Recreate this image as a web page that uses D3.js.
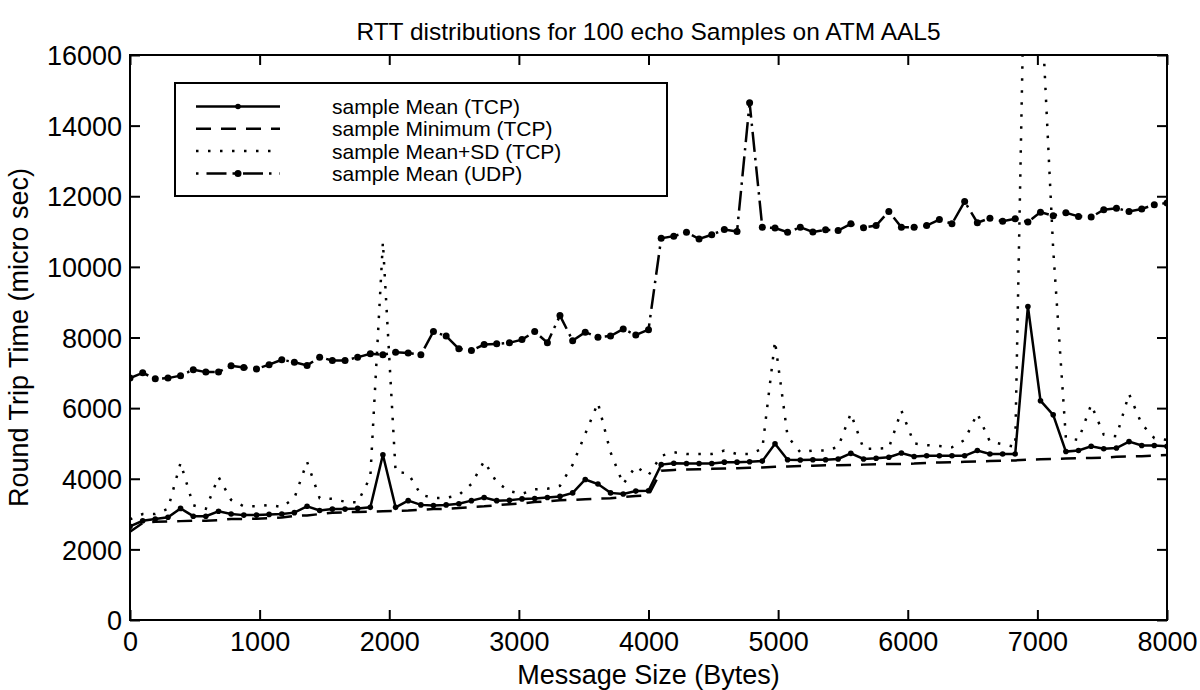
<!DOCTYPE html>
<html>
<head>
<meta charset="utf-8">
<script src="https://cdn.jsdelivr.net/npm/d3@7/dist/d3.min.js"></script>
<style>
  body { margin: 0; background: #fff; }
  svg text { font-family: 'Liberation Sans', Arial, Helvetica, sans-serif; fill: #000; }
</style>
</head>
<body>
<div id="chart"></div>
<script>
// message sizes (bytes), one per sample point
const sizes = [
  0, 98, 195, 293, 390, 488, 585, 683, 780, 878,
  976, 1073, 1171, 1268, 1366, 1463, 1561, 1659, 1756, 1854,
  1951, 2049, 2146, 2244, 2341, 2439, 2537, 2634, 2732, 2829,
  2927, 3024, 3122, 3220, 3317, 3415, 3512, 3610, 3707, 3805,
  3902, 4000, 4098, 4195, 4293, 4390, 4488, 4585, 4683, 4780,
  4878, 4976, 5073, 5171, 5268, 5366, 5463, 5561, 5659, 5756,
  5854, 5951, 6049, 6146, 6244, 6341, 6439, 6537, 6634, 6732,
  6829, 6927, 7024, 7122, 7220, 7317, 7415, 7512, 7610, 7707,
  7805, 7902, 8000
];

const meanTCP = [
  2650, 2810, 2860, 2910, 3160, 2940, 2940, 3080, 3000, 2970,
  2970, 2990, 3000, 3040, 3220, 3100, 3140, 3140, 3160, 3190,
  4680, 3190, 3380, 3260, 3240, 3260, 3290, 3380, 3470, 3380,
  3390, 3430, 3440, 3470, 3500, 3600, 3980, 3850, 3600, 3570,
  3650, 3660, 4400, 4440, 4430, 4430, 4430, 4470, 4470, 4480,
  4500, 4990, 4540, 4530, 4540, 4540, 4560, 4720, 4560, 4580,
  4610, 4730, 4630, 4650, 4650, 4650, 4650, 4800, 4700, 4700,
  4700, 8880, 6210, 5810, 4770, 4800, 4920, 4850, 4870, 5050,
  4940, 4940, 4920
];

const minTCP = [
  2500, 2750, 2780, 2790, 2800, 2810, 2810, 2830, 2860, 2860,
  2870, 2880, 2900, 2950, 2960, 3000, 3040, 3050, 3060, 3070,
  3080, 3090, 3100, 3120, 3140, 3150, 3170, 3200, 3220, 3250,
  3280, 3300, 3340, 3360, 3390, 3400, 3420, 3440, 3450, 3480,
  3510, 3530, 4230, 4250, 4260, 4270, 4280, 4290, 4300, 4310,
  4320, 4340, 4350, 4360, 4370, 4380, 4380, 4390, 4400, 4410,
  4420, 4420, 4430, 4450, 4460, 4470, 4480, 4490, 4500, 4510,
  4520, 4540, 4550, 4560, 4570, 4580, 4590, 4600, 4620, 4630,
  4640, 4660, 4670
];

const meanSdTCP = [
  2850, 3000, 3000, 3150, 4450, 3250, 3150, 4050, 3400, 3220,
  3220, 3260, 3200, 3450, 4480, 3450, 3430, 3350, 3330, 4050,
  10700, 4200, 4150, 3550, 3450, 3460, 3540, 3850, 4500, 3900,
  3650, 3570, 3700, 3720, 3800, 4400, 5270, 6150, 4750, 3850,
  4350, 4100, 4650, 4750, 4700, 4700, 4700, 4800, 4700, 4700,
  4850, 7900, 5200, 4750, 4800, 4800, 4900, 5850, 4850, 4850,
  4870, 5930, 5000, 4950, 4930, 4890, 5100, 5850, 5050, 4980,
  4900, 24000, 18000, 10500, 5150, 5100, 6100, 5250, 5200, 6400,
  5550, 5150, 5100
];

const meanUDP = [
  6850, 7000, 6830, 6850, 6920, 7090, 7020, 7020, 7200, 7150,
  7110, 7230, 7370, 7300, 7210, 7440, 7350, 7350, 7440, 7540,
  7510, 7580, 7560, 7510, 8170, 8040, 7680, 7630, 7800, 7820,
  7850, 7940, 8170, 7850, 8620, 7910, 8150, 8010, 8040, 8240,
  8070, 8220, 10810, 10870, 10980, 10790, 10910, 11060, 11000, 14650,
  11120, 11100, 10980, 11120, 10990, 11050, 11030, 11220, 11110, 11170,
  11570, 11120, 11120, 11170, 11340, 11220, 11850, 11250, 11380, 11290,
  11360, 11270, 11550, 11450, 11530, 11430, 11410, 11620, 11660, 11570,
  11640, 11760, 11810
];

const xTicks = [0, 1000, 2000, 3000, 4000, 5000, 6000, 7000, 8000];
const yTicks = [0, 2000, 4000, 6000, 8000, 10000, 12000, 14000, 16000];
const seriesNames = ['sample Mean (TCP)', 'sample Minimum (TCP)', 'sample Mean+SD (TCP)', 'sample Mean (UDP)'];

const W = 1200, H = 690;
const margin = { top: 55, right: 33, bottom: 70, left: 130 };
const width = W - margin.left - margin.right;
const height = H - margin.top - margin.bottom;

const svg = d3.select('#chart')
  .append('svg')
  .attr('width', W)
  .attr('height', H);

const g = svg.append('g')
  .attr('transform', `translate(${margin.left},${margin.top})`);

const x = d3.scaleLinear().domain([0, 8000]).range([0, width]);
const y = d3.scaleLinear().domain([0, 16000]).range([height, 0]);

g.append('clipPath').attr('id', 'plot-clip')
  .append('rect').attr('width', width).attr('height', height);

// axes, matlab style: ticks inside on all four sides
const tickLen = 10;
const fontTick = 27;
const fmt = d3.format('d');

const xAxis = g.append('g')
  .attr('transform', `translate(0,${height})`)
  .call(d3.axisBottom(x).tickValues(xTicks).tickFormat(fmt).tickSizeInner(-tickLen).tickSizeOuter(0).tickPadding(12));
const xTop = g.append('g')
  .call(d3.axisTop(x).tickValues(xTicks).tickSizeInner(-tickLen).tickSizeOuter(0).tickFormat(''));
const yAxis = g.append('g')
  .call(d3.axisLeft(y).tickValues(yTicks).tickFormat(fmt).tickSizeInner(-tickLen).tickSizeOuter(0).tickPadding(8));
const yRight = g.append('g')
  .attr('transform', `translate(${width},0)`)
  .call(d3.axisRight(y).tickValues(yTicks).tickSizeInner(-tickLen).tickSizeOuter(0).tickFormat(''));

[xAxis, xTop, yAxis, yRight].forEach((a) => {
  a.select('.domain').remove();
  a.selectAll('line').attr('stroke', '#000').attr('stroke-width', 2);
  a.selectAll('text')
    .style('font-size', fontTick + 'px')
    .style('font-family', "'Liberation Sans', Arial, sans-serif");
});
yAxis.selectAll('text').attr('dy', '0.36em');

g.append('rect')
  .attr('width', width)
  .attr('height', height)
  .attr('fill', 'none')
  .attr('stroke', '#000')
  .attr('stroke-width', 2);

// series
const line = (vals) => d3.line()
  .x((d, i) => x(sizes[i]))
  .y((d) => y(d))(vals);

const plot = g.append('g').attr('clip-path', 'url(#plot-clip)');

plot.append('path')
  .attr('d', line(minTCP))
  .attr('fill', 'none')
  .attr('stroke', '#000')
  .attr('stroke-width', 2.5)
  .attr('stroke-dasharray', '15,10');

plot.append('path')
  .attr('d', line(meanSdTCP))
  .attr('fill', 'none')
  .attr('stroke', '#000')
  .attr('stroke-width', 2.5)
  .attr('stroke-dasharray', '2.5,9.5');

plot.append('path')
  .attr('d', line(meanTCP))
  .attr('fill', 'none')
  .attr('stroke', '#000')
  .attr('stroke-width', 2.5);

plot.selectAll('circle.tcp')
  .data(meanTCP)
  .enter()
  .append('circle')
  .attr('class', 'tcp')
  .attr('cx', (d, i) => x(sizes[i]))
  .attr('cy', (d) => y(d))
  .attr('r', 2.8)
  .attr('fill', '#000');

plot.append('path')
  .attr('d', line(meanUDP))
  .attr('fill', 'none')
  .attr('stroke', '#000')
  .attr('stroke-width', 2.5)
  .attr('stroke-dasharray', '20,6,2.5,6');

plot.selectAll('circle.udp')
  .data(meanUDP)
  .enter()
  .append('circle')
  .attr('class', 'udp')
  .attr('cx', (d, i) => x(sizes[i]))
  .attr('cy', (d) => y(d))
  .attr('r', 3.5)
  .attr('fill', '#000');

// legend
const legend = svg.append('g').attr('transform', 'translate(175,83)');
legend.append('rect')
  .attr('width', 492)
  .attr('height', 113)
  .attr('fill', '#fff')
  .attr('stroke', '#000')
  .attr('stroke-width', 2);

const legendStyles = [
  { dash: null, marker: 2.8 },
  { dash: '15,10', marker: 0 },
  { dash: '2.5,9.5', marker: 0 },
  { dash: '2.5,8,20,6', marker: 3.5 }
];

seriesNames.forEach((name, i) => {
  const row = legend.append('g').attr('transform', `translate(0,${23.5 + i * 22.3})`);
  const st = legendStyles[i];
  row.append('line')
    .attr('x1', 21).attr('x2', 105)
    .attr('stroke', '#000')
    .attr('stroke-width', 2.5)
    .attr('stroke-dasharray', st.dash);
  if (st.marker) {
    row.append('circle').attr('cx', 63).attr('r', st.marker).attr('fill', '#000');
  }
  row.append('text')
    .attr('x', 157)
    .attr('dy', '0.36em')
    .style('font-size', '21px')
    .text(name);
});

// titles
svg.append('text')
  .attr('x', margin.left + width / 2)
  .attr('y', 40)
  .attr('text-anchor', 'middle')
  .style('font-size', '24.5px')
  .text('RTT distributions for 100 echo Samples on ATM AAL5');

svg.append('text')
  .attr('x', margin.left + width / 2)
  .attr('y', 684)
  .attr('text-anchor', 'middle')
  .style('font-size', '27px')
  .text('Message Size (Bytes)');

svg.append('text')
  .attr('transform', `translate(28,${margin.top + height / 2}) rotate(-90)`)
  .attr('text-anchor', 'middle')
  .style('font-size', '27px')
  .text('Round Trip Time (micro sec)');
</script>
</body>
</html>
